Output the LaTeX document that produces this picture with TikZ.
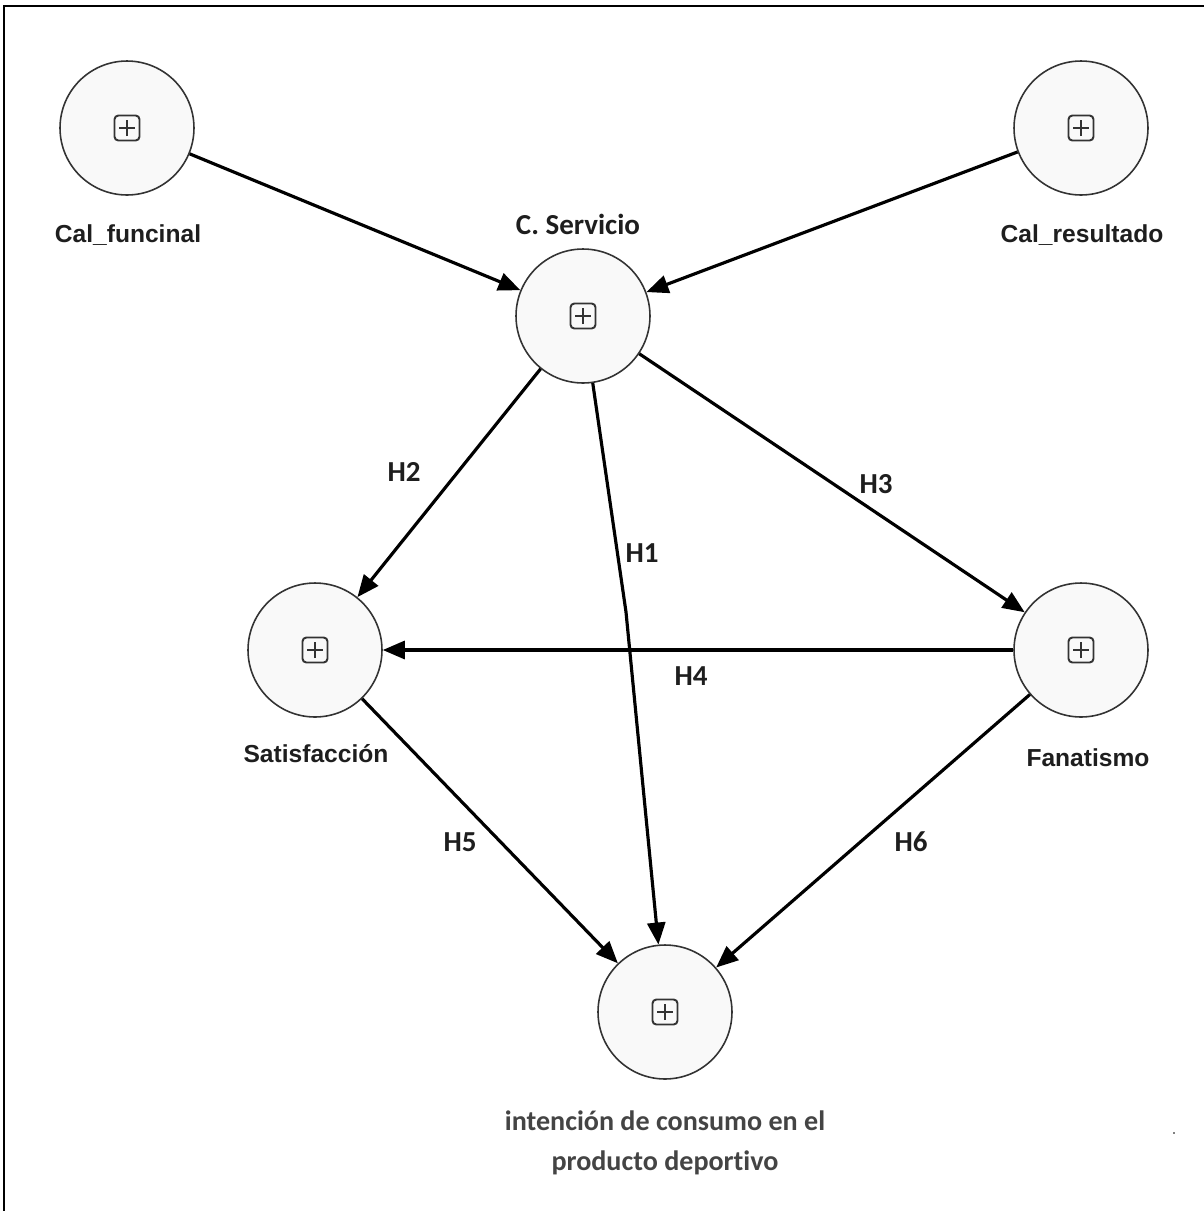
\documentclass[tikz,border=0pt]{standalone}
\usepackage{fontspec}
\setmainfont{Liberation Sans}
\newfontfamily\carl[Ligatures=NoCommon]{Carlito}
\usetikzlibrary{arrows.meta}
\definecolor{rim}{HTML}{333333}
\definecolor{bodyfill}{HTML}{F9F9F9}
\definecolor{ink}{HTML}{1E1E1E}
\definecolor{greyink}{HTML}{444444}
\begin{document}
\begin{tikzpicture}[x=0.02cm,y=-0.02cm,
  lv/.style={circle,draw=rim,fill=bodyfill,line width=0.9pt,minimum size=2.68cm,inner sep=0pt,
    path picture={
      \draw[line width=1.1pt,rounded corners=2.2pt]
        ([shift={(-0.25cm,-0.25cm)}]path picture bounding box.center) rectangle ++(0.5cm,0.5cm);
      \draw[line width=1pt]
        ([shift={(-0.16cm,0cm)}]path picture bounding box.center) -- ++(0.32cm,0cm)
        ([shift={(0cm,-0.16cm)}]path picture bounding box.center) -- ++(0cm,0.32cm);}},
  lvname/.style={font=\bfseries\fontsize{14}{17}\selectfont,text=ink},
  hyp/.style={font=\carl\bfseries\fontsize{16.5}{19}\selectfont,text=ink},
  path/.style={line width=1.8pt,-{Triangle[length=0.44cm,width=0.36cm]}}]
\useasboundingbox (0,0) rectangle (1204,1211);
% frame
\draw[line width=1.6pt] (4,1211)--(4,6)--(1204,6);
\fill (1174,1133) circle[radius=0.8];
% constructs
\node[lv] (fun) at (127,128) {};
\node[lv] (res) at (1081,128) {};
\node[lv] (serv) at (583,316) {};
\node[lv] (sat) at (315,650) {};
\node[lv] (fan) at (1081,650) {};
\node[lv] (int) at (665,1012) {};
% names
\node[lvname] (funname) at (128,235) {Cal\_funcinal};
\node[lvname] (resname) at (1082,235) {Cal\_resultado};
\node[font=\carl\bfseries\fontsize{16.5}{19}\selectfont,text=ink] (servname) at (578,224) {C. Servicio};
\node[lvname] (satname) at (316,754) {Satisfacción};
\node[lvname] (fanname) at (1088,758) {Fanatismo};
\node[font=\carl\bfseries\fontsize{16}{22.5}\selectfont,text=greyink,align=center] (intname) at (665,1143)
  {intención de consumo en el\\producto deportivo};
% paths
\coordinate (bend) at (626,612);
\draw[path] (fun) -- (serv);
\draw[path] (res) -- (serv);
\draw[path] (serv) -- (sat);
\draw[path] (serv) -- (fan);
\draw[path,-] (serv) -- (bend);
\draw[path] (bend) -- (int);
\draw[path] (fan) -- (sat);
\draw[path] (sat) -- (int);
\draw[path] (fan) -- (int);
% hypotheses
\node[hyp] (h1) at (642,553) {H1};
\node[hyp] (h2) at (404,472) {H2};
\node[hyp] (h3) at (876,484) {H3};
\node[hyp] (h4) at (691,676) {H4};
\node[hyp] (h5) at (460,842) {H5};
\node[hyp] (h6) at (911,842) {H6};
\end{tikzpicture}
\end{document}
